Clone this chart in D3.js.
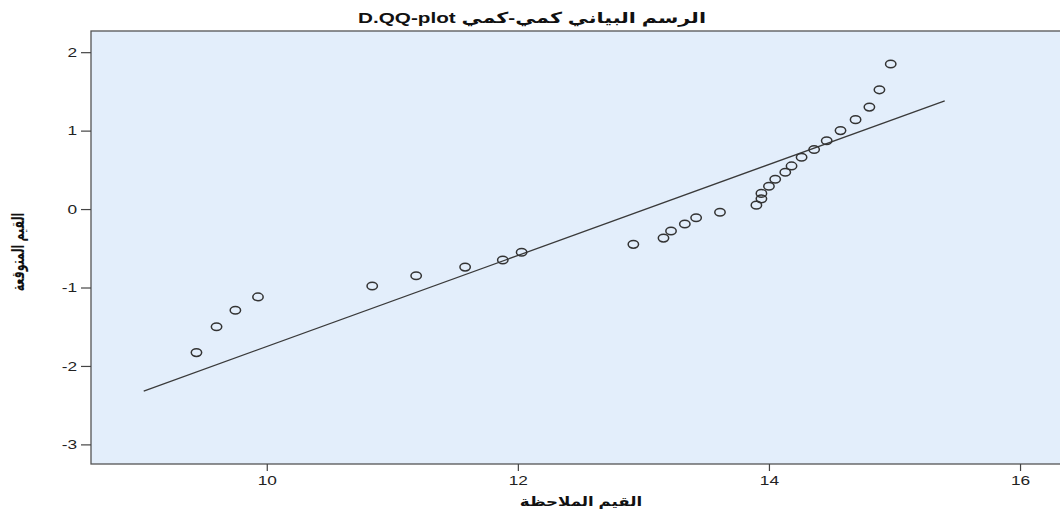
<!DOCTYPE html>
<html>
<head>
<meta charset="utf-8">
<script src="https://cdn.jsdelivr.net/npm/d3@7"></script>
<style>
  body { margin: 0; background: #fff; }
  text { font-family: "Liberation Sans", Arial, "DejaVu Sans", sans-serif; }
</style>
</head>
<body>
<div id="chart"></div>
<script>
// observed values (x) and expected normal values (y)
const observed = [9.44, 9.60, 9.75, 9.93, 10.84, 11.19, 11.58, 11.88, 12.03, 12.92,
    13.16, 13.22, 13.33, 13.42, 13.61, 13.90, 13.94, 13.94, 14.00, 14.05,
    14.13, 14.18, 14.26, 14.36, 14.46, 14.57, 14.69, 14.80, 14.88, 14.97];
const expected = [-1.83, -1.50, -1.29, -1.12, -0.98, -0.85, -0.74, -0.65, -0.55, -0.45,
    -0.37, -0.28, -0.19, -0.11, -0.04, 0.05, 0.13, 0.20, 0.29, 0.38,
    0.47, 0.55, 0.66, 0.76, 0.87, 1.00, 1.14, 1.30, 1.52, 1.85];
const refLine = [[9.02, -2.32], [15.40, 1.38]];
const xTicks = [10, 12, 14, 16];
const yTicks = [2, 1, 0, -1, -2, -3];

const points = observed.map((d, i) => ({ x: d, y: expected[i] }));

const W = 1060, H = 513;
const margin = { top: 31, right: -9, bottom: 49, left: 91 };
const width = W - margin.left - margin.right;
const height = H - margin.top - margin.bottom;
const stretch = 1.33; // text in the original is drawn wide

const svg = d3.select("#chart").append("svg")
    .attr("width", W)
    .attr("height", H);

const g = svg.append("g")
    .attr("transform", `translate(${margin.left},${margin.top})`);

const x = d3.scaleLinear().domain([8.60, 16.39]).range([0, width]);
const y = d3.scaleLinear().domain([-3.25, 2.27]).range([height, 0]);

g.append("rect")
    .attr("width", width)
    .attr("height", height)
    .attr("fill", "#e3eefb")
    .attr("stroke", "#555")
    .attr("stroke-width", 1.3);

const xAxis = g.append("g")
    .attr("transform", `translate(0,${height})`)
    .call(d3.axisBottom(x).tickValues(xTicks).tickFormat(d => String(d)).tickSize(7).tickPadding(5));
const yAxis = g.append("g")
    .call(d3.axisLeft(y).tickValues(yTicks).tickFormat(d => String(d)).tickSize(10).tickPadding(3));

[xAxis, yAxis].forEach(a => {
    a.select(".domain").remove();
    a.selectAll("line").attr("stroke", "#444").attr("stroke-width", 1.2);
    a.selectAll("text")
        .attr("fill", "#222")
        .style("font-size", "13px")
        .style("font-family", "'Liberation Sans', Arial, sans-serif")
        .attr("transform", `scale(${stretch},1)`);
});
yAxis.selectAll("text").attr("x", -14 / stretch);

g.append("path")
    .datum(refLine)
    .attr("fill", "none")
    .attr("stroke", "#3a3a3a")
    .attr("stroke-width", 1.3)
    .attr("d", d3.line().x(d => x(d[0])).y(d => y(d[1])));

g.selectAll(".pt")
    .data(points)
    .enter()
    .append("ellipse")
    .attr("class", "pt")
    .attr("cx", d => x(d.x))
    .attr("cy", d => y(d.y))
    .attr("rx", 5.2)
    .attr("ry", 3.8)
    .attr("fill", "none")
    .attr("stroke", "#333")
    .attr("stroke-width", 1.5);

svg.append("text")
    .attr("transform", `translate(532,23) scale(${stretch + 0.05},1)`)
    .attr("text-anchor", "middle")
    .attr("direction", "rtl")
    .style("font-size", "15px")
    .style("font-weight", "bold")
    .attr("fill", "#111")
    .text("الرسم البياني كمي-كمي D.QQ-plot");

svg.append("text")
    .attr("transform", `translate(581,506) scale(${stretch - 0.05},1)`)
    .attr("text-anchor", "middle")
    .attr("direction", "rtl")
    .style("font-size", "13px")
    .style("font-weight", "bold")
    .attr("fill", "#111")
    .text("القيم الملاحظة");

svg.append("text")
    .attr("transform", "translate(24,252) rotate(-90) scale(1,1.6)")
    .attr("text-anchor", "middle")
    .attr("direction", "rtl")
    .style("font-size", "11px")
    .style("font-weight", "bold")
    .attr("fill", "#111")
    .text("القيم المتوقعة");
</script>
</body>
</html>
